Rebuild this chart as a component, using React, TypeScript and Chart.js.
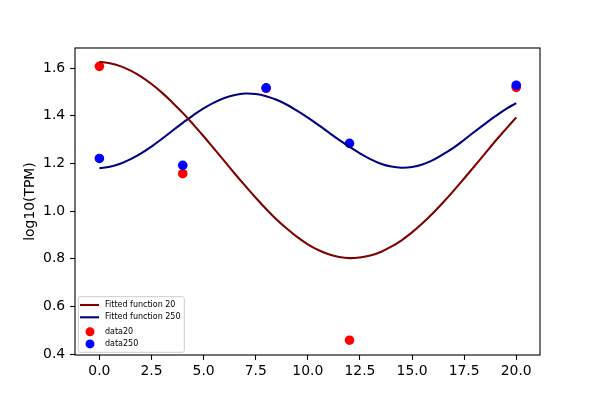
import { useEffect, useRef } from "react";
import { Chart, registerables } from "chart.js";

Chart.register(...registerables);

// fitted curves, read every half unit along x
const X_FIT = [0, 0.5, 1, 1.5, 2, 2.5, 3, 3.5, 4, 4.5, 5, 5.5, 6, 6.5, 7, 7.5, 8, 8.5, 9, 9.5, 10, 10.5, 11, 11.5, 12, 12.5, 13, 13.5, 14, 14.5, 15, 15.5, 16, 16.5, 17, 17.5, 18, 18.5, 19, 19.5, 20];
const FIT20 = [
  1.626, 1.62, 1.608, 1.589, 1.564, 1.533, 1.497, 1.456, 1.412, 1.364, 1.314, 1.262, 1.21, 1.157, 1.106, 1.056, 1.009, 0.965, 0.926, 0.891,
  0.861, 0.837, 0.819, 0.808, 0.803, 0.806, 0.814, 0.829, 0.851, 0.878, 0.911, 0.949, 0.991, 1.037, 1.086, 1.137, 1.189, 1.241, 1.294, 1.344, 1.393,
];
const FIT250 = [
  1.18, 1.186, 1.199, 1.218, 1.242, 1.271, 1.303, 1.337, 1.37, 1.402, 1.431, 1.455, 1.474, 1.487, 1.493, 1.491, 1.482, 1.467, 1.446, 1.42,
  1.392, 1.362, 1.33, 1.299, 1.27, 1.242, 1.218, 1.199, 1.187, 1.182, 1.185, 1.196, 1.214, 1.239, 1.266, 1.299, 1.333, 1.366, 1.398, 1.428, 1.453,
];

// measured points
const T_DATA = [0, 4, 8, 12, 20];
const DATA20 = [1.607, 1.157, 1.515, 0.459, 1.519];
const DATA250 = [1.221, 1.192, 1.517, 1.284, 1.528];

const X_TICKS = [0, 2.5, 5, 7.5, 10, 12.5, 15, 17.5, 20];
const Y_TICKS = [0.4, 0.6, 0.8, 1.0, 1.2, 1.4, 1.6];

const FONT = "'DejaVu Sans', sans-serif";

const frame = {
  id: "frame",
  afterDatasetsDraw(chart: any) {
    const { ctx, chartArea: a } = chart;
    ctx.save();
    ctx.strokeStyle = "#000";
    ctx.lineWidth = 1.1;
    ctx.strokeRect(a.left, a.top, a.right - a.left, a.bottom - a.top);
    ctx.restore();
  },
};

const legendBox = {
  id: "legendBox",
  afterDraw(chart: any) {
    const { ctx, chartArea: a } = chart;
    const x0 = a.left + 3.3;
    const y0 = a.bottom - 58.3;
    const rows = [8.3, 20.6, 35, 47.2];
    ctx.save();
    ctx.beginPath();
    ctx.roundRect(x0, y0, 106, 55.6, 2);
    ctx.fillStyle = "rgba(255,255,255,0.8)";
    ctx.fill();
    ctx.strokeStyle = "#cccccc";
    ctx.lineWidth = 1;
    ctx.stroke();
    ctx.font = `8px ${FONT}`;
    ctx.textBaseline = "middle";
    chart.data.datasets.forEach((ds: any, i: number) => {
      const y = y0 + rows[i];
      if (ds.type === "line") {
        ctx.strokeStyle = ds.borderColor;
        ctx.lineWidth = 2.1;
        ctx.beginPath();
        ctx.moveTo(x0 + 1.7, y);
        ctx.lineTo(x0 + 20.7, y);
        ctx.stroke();
      } else {
        ctx.fillStyle = ds.backgroundColor;
        ctx.beginPath();
        ctx.arc(x0 + 11.7, y, 4.5, 0, Math.PI * 2);
        ctx.fill();
      }
      ctx.fillStyle = "#000";
      ctx.fillText(ds.label, x0 + 26.7, y);
    });
    ctx.restore();
  },
};

export default function App() {
  const canvasRef = useRef<HTMLCanvasElement>(null);

  useEffect(() => {
    if (!canvasRef.current) return;
    const tickFont = { family: FONT, size: 13.9 };
    const chart = new Chart(canvasRef.current, {
      type: "scatter",
      data: {
        datasets: [
          {
            type: "line",
            label: "Fitted function 20",
            data: X_FIT.map((x, i) => ({ x, y: FIT20[i] })),
            borderColor: "#800000",
            borderWidth: 2.1,
            pointRadius: 0,
            tension: 0.4,
            order: 1,
          },
          {
            type: "line",
            label: "Fitted function 250",
            data: X_FIT.map((x, i) => ({ x, y: FIT250[i] })),
            borderColor: "#000080",
            borderWidth: 2.1,
            pointRadius: 0,
            tension: 0.4,
            order: 1,
          },
          {
            label: "data20",
            data: T_DATA.map((x, i) => ({ x, y: DATA20[i] })),
            backgroundColor: "#ff0000",
            borderWidth: 0,
            pointRadius: 4.8,
            order: 3,
          },
          {
            label: "data250",
            data: T_DATA.map((x, i) => ({ x, y: DATA250[i] })),
            backgroundColor: "#0000ff",
            borderWidth: 0,
            pointRadius: 4.8,
            order: 2,
          },
        ] as any,
      },
      options: {
        animation: false,
        responsive: false,
        events: [],
        layout: { padding: { left: 0, top: 48, right: 60, bottom: 0 } },
        plugins: { legend: { display: false }, tooltip: { enabled: false } },
        scales: {
          x: {
            type: "linear",
            min: -1.17,
            max: 21.14,
            afterFit: (s: any) => { s.height = 45; },
            afterBuildTicks: (s: any) => { s.ticks = X_TICKS.map((value) => ({ value })); },
            border: { display: false },
            grid: { drawOnChartArea: false, drawTicks: true, tickLength: 4.9, color: "#000", tickWidth: 1.1 },
            ticks: { color: "#000", font: tickFont, padding: 3, maxRotation: 0, callback: (v: any) => Number(v).toFixed(1) },
          },
          y: {
            type: "linear",
            min: 0.397,
            max: 1.684,
            afterFit: (s: any) => { s.width = 75; },
            afterBuildTicks: (s: any) => { s.ticks = Y_TICKS.map((value) => ({ value })); },
            border: { display: false },
            grid: { drawOnChartArea: false, drawTicks: true, tickLength: 4.9, color: "#000", tickWidth: 1.1 },
            ticks: { color: "#000", font: tickFont, padding: 4.9, callback: (v: any) => Number(v).toFixed(1) },
            title: { display: true, text: "log10(TPM)", color: "#000", font: tickFont, padding: { top: 22.5, bottom: 0 } },
          },
        },
      },
      plugins: [frame, legendBox],
    });
    return () => chart.destroy();
  }, []);

  return (
    <canvas
      ref={canvasRef}
      width={600}
      height={400}
      style={{ position: "fixed", left: 0, top: 0, width: 600, height: 400, display: "block", background: "#fff" }}
    />
  );
}
